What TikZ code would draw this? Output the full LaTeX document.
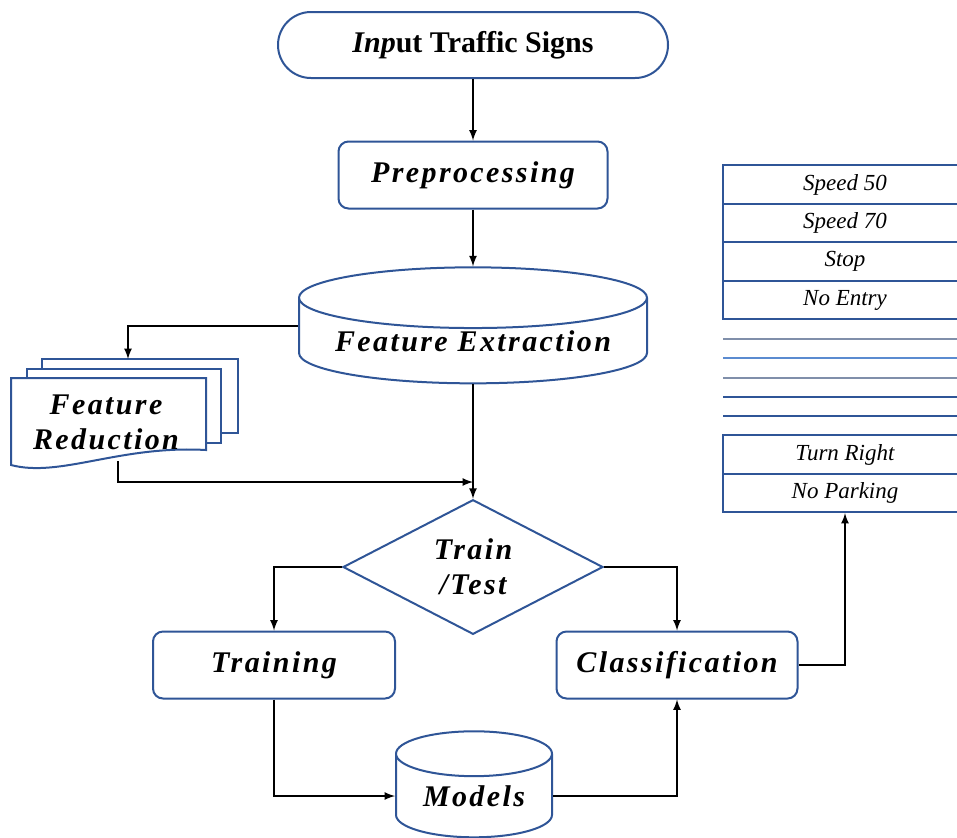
\documentclass[tikz,border=0pt]{standalone}
\usepackage{fontspec}
\setmainfont{Liberation Serif}
\newfontfamily\flowfont[LetterSpace=8]{Liberation Serif}
\usepackage{tikz}
\usetikzlibrary{calc}
\usetikzlibrary{positioning}
\usetikzlibrary{shapes}
\usetikzlibrary{arrows}
\definecolor{sblue}{RGB}{47,85,151}
\definecolor{lblue}{RGB}{91,139,208}
\definecolor{gblue}{RGB}{128,143,170}

\begin{document}
\begin{tikzpicture}[x=0.5pt, y=-0.5pt,
		flowbox/.style={draw=sblue, line width=1pt, fill=white, align=center, inner sep=0pt,
			font=\flowfont\bfseries\itshape\fontsize{15}{17.5}\selectfont},
		roundbox/.style={flowbox, rectangle, rounded corners=5pt},
		drum/.style={flowbox, cylinder, shape border rotate=90},
		signrow/.style={draw=sblue, line width=0.8pt, minimum width=122pt, minimum height=19.25pt,
			inner sep=0pt, font=\itshape\fontsize{11.5}{13}\selectfont},
		flowarrow/.style={line width=0.8pt, -latex}]
	\useasboundingbox (0,0) rectangle (957,837);

	% main column
	\node[flowbox, rounded rectangle, minimum width=195pt, minimum height=33pt,
		font=\bfseries\fontsize{15}{17.5}\selectfont] (input) at (473,45) {\textit{Inp}ut Traffic Signs};
	\node[roundbox, minimum width=134.5pt, minimum height=33.5pt] (prep) at (473,175) {Preprocessing};
	\node[drum, minimum width=174pt, minimum height=58pt, shape aspect=0.22] (fext) at (473,341) {Feature Extraction};
	\node[flowbox, diamond, minimum width=130pt, minimum height=60pt] (split) at (473,567) {Train\\/Test};
	\node[roundbox, minimum width=121pt, minimum height=33.5pt] (train) at (274,665) {Training};
	\node[roundbox, minimum width=120.5pt, minimum height=33.5pt] (classify) at (677,665) {Classification};
	\node[drum, minimum width=78pt, minimum height=53pt, shape aspect=0.44] (models) at (474,796) {Models};

	% document stack
	\draw[sblue, line width=1pt, fill=white] (42,359) rectangle (238,433);
	\draw[sblue, line width=1pt, fill=white] (27,369) rectangle (221,443);
	\draw[sblue, line width=1pt, fill=white] (11,378) -- (206,378) -- (206,450)
		.. controls (120,445) and (60,478) .. (11,465) -- cycle;
	\node[align=center, font=\flowfont\bfseries\itshape\fontsize{15}{17.5}\selectfont] (reduce) at (106,422) {Feature\\Reduction};
	\coordinate (reducetop) at (128,359);
	\coordinate (reducebot) at (118,461);
	\coordinate (merge) at (473,482);

	% sign list
	\node[signrow] (s1) at (845,184.5) {Speed 50};
	\node[signrow] (s2) at (845,223) {Speed 70};
	\node[signrow] (s3) at (845,261.5) {Stop};
	\node[signrow] (s4) at (845,300) {No Entry};
	\foreach \yy/\cc in {339/gblue, 358/lblue, 378/gblue, 397/sblue, 416/sblue}
		\draw[\cc, line width=0.8pt] (723,\yy) -- (967,\yy);
	\node[signrow] (s5) at (845,454.5) {Turn Right};
	\node[signrow] (s6) at (845,493) {No Parking};

	% connectors
	\draw[flowarrow] (input) -- (prep);
	\draw[flowarrow] (prep) -- (fext);
	\draw[flowarrow] ([yshift=7.5pt]fext.west) -| (reducetop);
	\draw[flowarrow] (reducebot) |- (merge);
	\draw[flowarrow] (fext.south) -- (split.north);
	\draw[flowarrow] (split.west) -| (train.north);
	\draw[flowarrow] (split.east) -| (classify.north);
	\draw[flowarrow] (train.south) |- (models.west);
	\draw[flowarrow] (models.east) -| (classify.south);
	\draw[flowarrow] (classify.east) -| (s6.south);
\end{tikzpicture}
\end{document}
